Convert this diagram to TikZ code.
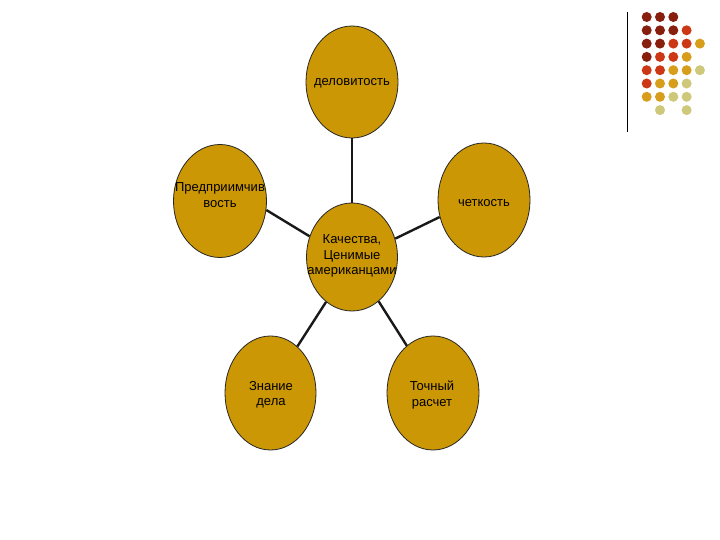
\documentclass[tikz,border=0pt]{standalone}
\usepackage{fontspec}
\setmainfont{Liberation Sans}
\usetikzlibrary{shapes.geometric}
\definecolor{ochre}{RGB}{204,151,4}
\definecolor{dkred}{RGB}{136,30,14}
\definecolor{rdor}{RGB}{204,56,22}
\definecolor{gold}{RGB}{214,158,26}
\definecolor{pale}{RGB}{206,200,122}
\tikzset{
  bubble/.style={ellipse, draw=black!85, line width=0.8pt, fill=ochre, inner sep=0pt},
  lbl/.style={font=\fontsize{13}{15.5}\selectfont, align=center, inner sep=0pt, text=black},
  conn/.style={line width=2.4pt, draw=black!90},
  dot/.style={circle, inner sep=0pt, minimum size=10pt}
}
\begin{document}
\begin{tikzpicture}[x=1pt,y=-1pt]
\useasboundingbox (0,0) rectangle (720,540);
\fill[white] (0,0) rectangle (720,540);
% decorative line and dots
\coordinate (vtop) at (627.7,12);
\coordinate (vbot) at (627.7,132);
\draw[line width=1.4pt, black] (vtop) -- (vbot);
\foreach \c/\r/\col in {1/1/dkred,2/1/dkred,3/1/dkred,
  1/2/dkred,2/2/dkred,3/2/dkred,4/2/rdor,
  1/3/dkred,2/3/dkred,3/3/rdor,4/3/rdor,5/3/gold,
  1/4/dkred,2/4/rdor,3/4/rdor,4/4/gold,
  1/5/rdor,2/5/rdor,3/5/gold,4/5/gold,5/5/pale,
  1/6/rdor,2/6/gold,3/6/gold,4/6/pale,
  1/7/gold,2/7/gold,3/7/pale,4/7/pale,
  2/8/pale,4/8/pale}{
  \node[dot, fill=\col] (d\c\r) at ({633.4+13.3*\c},{3.7+13.3*\r}) {};
}
% bubbles
\node[bubble, minimum width=92pt, minimum height=112pt] (top) at (352,82) {};
\node[bubble, minimum width=93pt, minimum height=113pt] (left) at (220,201) {};
\node[bubble, minimum width=92pt, minimum height=114pt] (right) at (484,200) {};
\node[bubble, minimum width=91pt, minimum height=108pt] (center) at (352,257) {};
\node[bubble, minimum width=91pt, minimum height=114pt] (bl) at (270.5,393) {};
\node[bubble, minimum width=92pt, minimum height=114pt] (br) at (433,393) {};
% connectors
\draw[conn] (center.90) -- (top.-90);
\draw[conn] (center.154) -- (left.-11);
\draw[conn] (center.23) -- (right.201);
\draw[conn] (center.240) -- (bl.60);
\draw[conn] (center.301) -- (br.119);
% labels
\node[lbl] (ttop) at (352,83) {деловитость};
\node[lbl] (tleft) at (220,195) {Предприимчив\\вость};
\node[lbl] (tright) at (484,203) {четкость};
\node[lbl] (tcenter) at (352,256) {Качества,\\Ценимые\\американцами};
\node[lbl] (tbl) at (271,395) {Знание\\дела};
\node[lbl] (tbr) at (432,395) {Точный\\расчет};
\end{tikzpicture}
\end{document}
